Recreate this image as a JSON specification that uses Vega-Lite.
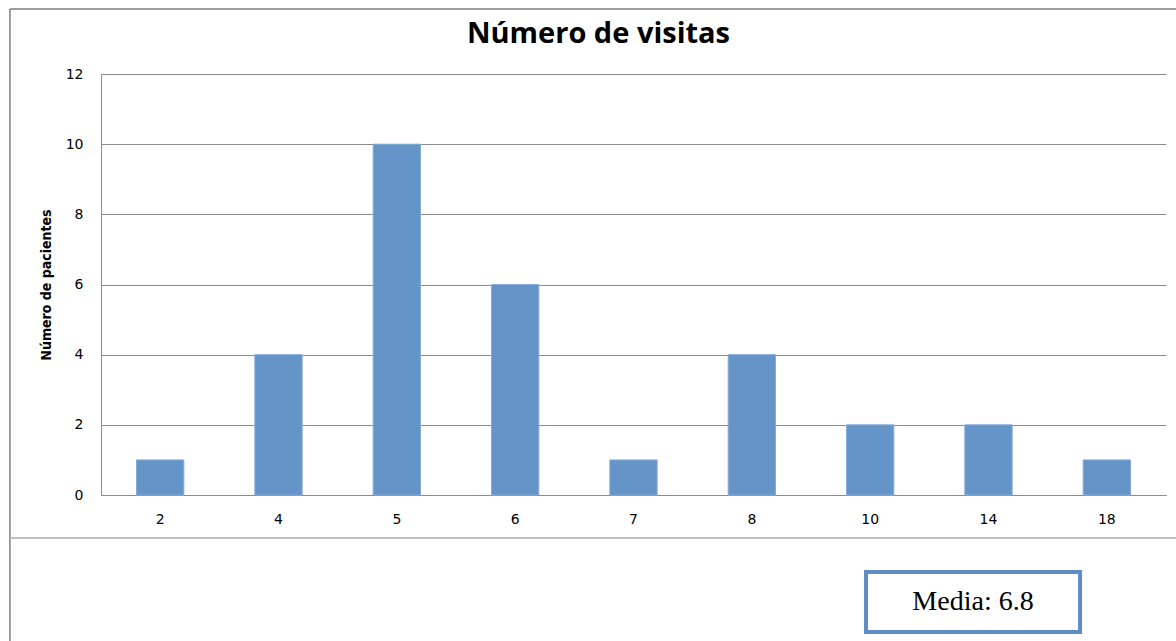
{
  "$schema": "https://vega.github.io/schema/vega-lite/v6.json",
  "width": 1065,
  "height": 421,
  "autosize": "none",
  "padding": {"left": 101, "top": 74, "right": 10, "bottom": 146},
  "background": "white",
  "title": {
    "text": "Número de visitas",
    "font": "Open Sans",
    "fontSize": 29,
    "fontWeight": "bold",
    "color": "#000000",
    "anchor": "middle",
    "frame": "group",
    "dx": -35,
    "offset": -41
  },
  "config": {
    "view": {"stroke": null},
    "axis": {"labelColor": "#000000", "labelFont": "DejaVu Sans", "labelFontSize": 14}
  },
  "layer": [
    {
      "data": {
        "values": [
          {"visitas": "2", "pacientes": 1},
          {"visitas": "4", "pacientes": 4},
          {"visitas": "5", "pacientes": 10},
          {"visitas": "6", "pacientes": 6},
          {"visitas": "7", "pacientes": 1},
          {"visitas": "8", "pacientes": 4},
          {"visitas": "10", "pacientes": 2},
          {"visitas": "14", "pacientes": 2},
          {"visitas": "18", "pacientes": 1}
        ]
      },
      "mark": {"type": "bar", "color": "#6494c8", "stroke": "#86acdb", "strokeWidth": 1},
      "encoding": {
        "x": {
          "field": "visitas",
          "type": "ordinal",
          "sort": null,
          "scale": {"paddingInner": 0.6, "paddingOuter": 0.3},
          "axis": {
            "title": null,
            "labelAngle": 0,
            "ticks": false,
            "labelPadding": 17,
            "domainColor": "#8c8c8c",
            "grid": false
          }
        },
        "y": {
          "field": "pacientes",
          "type": "quantitative",
          "scale": {"domain": [0, 12], "nice": false},
          "axis": {
            "values": [0, 2, 4, 6, 8, 10, 12],
            "grid": true,
            "gridColor": "#8c8c8c",
            "ticks": false,
            "domainColor": "#8c8c8c",
            "labelPadding": 18,
            "title": "Número de pacientes",
            "titleFont": "Liberation Sans Narrow, DejaVu Sans Condensed, sans-serif",
            "titleFontSize": 14,
            "titleFontWeight": "bold",
            "titleColor": "#000000",
            "titlePadding": 12
          }
        }
      }
    },
    {
      "data": {"values": [{}]},
      "mark": {"type": "rule", "color": "#7f7f7f", "strokeWidth": 1.5},
      "encoding": {
        "x": {"datum": -0.0855, "type": "quantitative", "scale": {"domain": [0, 1]}, "axis": null},
        "x2": {"datum": 1.02},
        "y": {"datum": 13.853, "type": "quantitative", "scale": {"domain": [0, 12], "nice": false}}
      }
    },
    {
      "data": {"values": [{}]},
      "mark": {"type": "rule", "color": "#7f7f7f", "strokeWidth": 1.5},
      "encoding": {
        "x": {"datum": -0.0855, "type": "quantitative", "scale": {"domain": [0, 1]}, "axis": null},
        "y": {"datum": 13.853, "type": "quantitative", "scale": {"domain": [0, 12], "nice": false}},
        "y2": {"datum": -4.3}
      }
    },
    {
      "data": {"values": [{}]},
      "mark": {"type": "rule", "color": "#c0c0c0", "strokeWidth": 2},
      "encoding": {
        "x": {"datum": -0.0855, "type": "quantitative", "scale": {"domain": [0, 1]}, "axis": null},
        "x2": {"datum": 1.02},
        "y": {"datum": -1.226, "type": "quantitative", "scale": {"domain": [0, 12], "nice": false}}
      }
    },
    {
      "data": {"values": [{}]},
      "mark": {"type": "rect", "fill": "white", "stroke": "#5e8cc6", "strokeWidth": 4},
      "encoding": {
        "x": {"datum": 0.7183, "type": "quantitative", "scale": {"domain": [0, 1]}, "axis": null},
        "x2": {"datum": 0.9193},
        "y": {"datum": -2.195, "type": "quantitative", "scale": {"domain": [0, 12], "nice": false}},
        "y2": {"datum": -3.905}
      }
    },
    {
      "data": {"values": [{}]},
      "mark": {
        "type": "text",
        "text": "Media: 6.8",
        "font": "Liberation Serif",
        "fontSize": 28,
        "color": "#000000",
        "align": "center",
        "baseline": "middle"
      },
      "encoding": {
        "x": {"datum": 0.8188, "type": "quantitative", "scale": {"domain": [0, 1]}, "axis": null},
        "y": {"datum": -3.05, "type": "quantitative", "scale": {"domain": [0, 12], "nice": false}}
      }
    }
  ],
  "resolve": {"scale": {"x": "independent"}}
}
